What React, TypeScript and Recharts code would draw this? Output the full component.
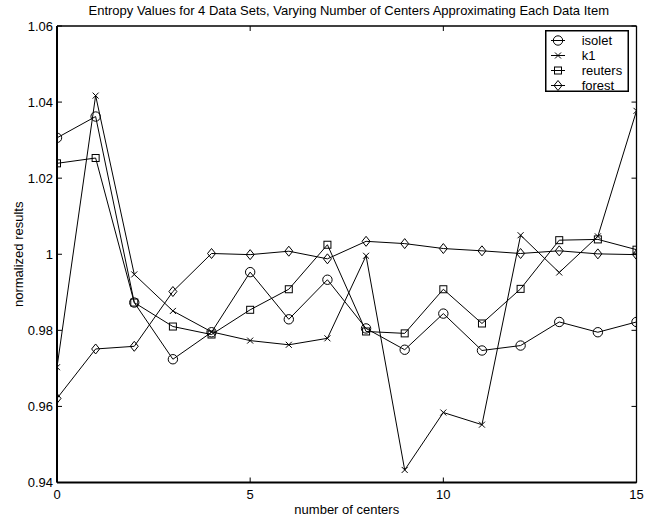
import React from 'react';
import { LineChart, Line, XAxis, YAxis, Legend } from 'recharts';

const centers = [0, 1, 2, 3, 4, 5, 6, 7, 8, 9, 10, 11, 12, 13, 14, 15];
const isolet = [1.0306, 1.0362, 0.9873, 0.9724, 0.9795, 0.9953, 0.9829, 0.9933, 0.9805, 0.9749, 0.9844, 0.9747, 0.976, 0.9822, 0.9795, 0.9822];
const k1 = [0.9703, 1.0417, 0.9947, 0.9851, 0.9796, 0.9773, 0.9762, 0.9779, 0.9996, 0.9433, 0.9584, 0.9552, 1.005, 0.9952, 1.0047, 1.0377];
const reuters = [1.0239, 1.0253, 0.9873, 0.981, 0.9789, 0.9854, 0.9908, 1.0025, 0.9797, 0.9792, 0.9908, 0.9818, 0.9909, 1.0037, 1.0039, 1.0012];
const forest = [0.9621, 0.9751, 0.9758, 0.9902, 1.0002, 0.9999, 1.0008, 0.9988, 1.0034, 1.0028, 1.0015, 1.0009, 1.0002, 1.0009, 1.0001, 0.9999];

const seriesOrder = ['isolet', 'k1', 'reuters', 'forest'];
const xTicks = [0, 5, 10, 15];
const yTicks = [0.94, 0.96, 0.98, 1, 1.02, 1.04, 1.06];
const xDomain = [0, 15];
const yDomain = [0.94, 1.06];

const title = 'Entropy Values for 4 Data Sets, Varying Number of Centers Approximating Each Data Item';
const xLabel = 'number of centers';
const yLabel = 'normalized results';

const data = centers.map((c, i) => ({
  c,
  isolet: isolet[i],
  k1: k1[i],
  reuters: reuters[i],
  forest: forest[i],
}));

const FONT = '"Liberation Sans", Arial, Helvetica, sans-serif';
const TICK = 5;
const FS = 13;
const tickLineStyle = { stroke: '#000', strokeWidth: 1 };

type Kind = 'isolet' | 'k1' | 'reuters' | 'forest';

const Marker = ({ kind, cx, cy }: { kind: Kind; cx: number; cy: number }) => {
  const s = { fill: 'none', stroke: '#000', strokeWidth: 1 };
  if (kind === 'isolet') return <circle cx={cx} cy={cy} r={4.7} {...s} />;
  if (kind === 'k1')
    return (
      <g {...s}>
        <line x1={cx - 3} y1={cy - 3} x2={cx + 3} y2={cy + 3} />
        <line x1={cx - 3} y1={cy + 3} x2={cx + 3} y2={cy - 3} />
      </g>
    );
  if (kind === 'reuters') return <rect x={cx - 3.5} y={cy - 3.5} width={7} height={7} {...s} />;
  return <polygon points={`${cx},${cy - 5} ${cx + 4},${cy} ${cx},${cy + 5} ${cx - 4},${cy}`} {...s} />;
};

const dotFor = (kind: Kind) => (p: any) => {
  if (p.cx == null || p.cy == null) return <g key={`${kind}-${p.index}`} />;
  return <Marker key={`${kind}-${p.index}`} kind={kind} cx={p.cx} cy={p.cy} />;
};

const fmt = (v: number) => String(Number(v.toFixed(2)));

// With tickSize = -TICK the tick lines point into the plot and the tick
// anchor sits TICK px inside the axis line.
const BottomTick = (p: any) => (
  <text x={p.x} y={Number(p.y) + TICK + 16} textAnchor="middle" fontSize={FS} fontFamily={FONT} fill="#000">
    {fmt(p.payload.value)}
  </text>
);
const LeftTick = (p: any) => (
  <text x={Number(p.x) - TICK - 4} y={Number(p.y) + 4.5} textAnchor="end" fontSize={FS} fontFamily={FONT} fill="#000">
    {fmt(p.payload.value)}
  </text>
);
const NoTickText = () => <g />;

const renderLegend = (props: any) => {
  const payload = [...(props.payload || [])].sort(
    (a: any, b: any) => seriesOrder.indexOf(String(a.dataKey)) - seriesOrder.indexOf(String(b.dataKey))
  );
  return (
    <svg width={84} height={62} style={{ display: 'block' }}>
      <rect x={0.75} y={0.75} width={82.5} height={60.5} fill="#fff" stroke="#000" strokeWidth={1.5} />
      {payload.map((e: any, i: number) => {
        const cy = 10.5 + i * 15;
        return (
          <g key={String(e.dataKey)}>
            <line x1={6} x2={20} y1={cy} y2={cy} stroke="#000" />
            <Marker kind={e.dataKey as Kind} cx={13} cy={cy} />
            <text x={36.7} y={cy + 4.5} fontSize={FS} fontFamily={FONT} fill="#000">
              {e.value}
            </text>
          </g>
        );
      })}
    </svg>
  );
};

export default function App() {
  return (
    <div style={{ position: 'absolute', left: 0, top: 0, width: 650, height: 517, background: '#fff' }}>
      <LineChart
        width={650}
        height={517}
        data={data}
        margin={{ top: 0, right: 0, bottom: 0, left: 0 }}
        style={{ fontFamily: FONT }}
      >
        <XAxis
          xAxisId="b"
          dataKey="c"
          type="number"
          domain={xDomain}
          ticks={xTicks}
          interval={0}
          allowDataOverflow
          height={34.5}
          tickSize={-TICK}
          tickMargin={0}
          tickLine={tickLineStyle}
          tick={BottomTick}
          axisLine={{ stroke: '#000', strokeWidth: 2 }}
          label={(p: any) => {
            const vb = p.viewBox;
            return (
              <text x={vb.x + vb.width / 2} y={vb.y + 31.5} textAnchor="middle" fontSize={FS} fontFamily={FONT} fill="#000">
                {xLabel}
              </text>
            );
          }}
        />
        <XAxis
          xAxisId="t"
          orientation="top"
          dataKey="c"
          type="number"
          domain={xDomain}
          ticks={xTicks}
          interval={0}
          allowDataOverflow
          height={26}
          tickSize={-TICK}
          tickMargin={0}
          tickLine={tickLineStyle}
          tick={NoTickText}
          axisLine={{ stroke: '#000', strokeWidth: 1.5 }}
          label={(p: any) => {
            const vb = p.viewBox;
            return (
              <text x={vb.x + vb.width / 2 + 2} y={15} textAnchor="middle" fontSize={FS} fontFamily={FONT} fill="#000">
                {title}
              </text>
            );
          }}
        />
        <YAxis
          yAxisId="l"
          type="number"
          domain={yDomain}
          ticks={yTicks}
          interval={0}
          allowDataOverflow
          width={57}
          tickSize={-TICK}
          tickMargin={0}
          tickLine={tickLineStyle}
          tick={LeftTick}
          axisLine={{ stroke: '#000', strokeWidth: 2 }}
          label={(p: any) => {
            const vb = p.viewBox;
            const cy = vb.y + vb.height / 2;
            return (
              <text x={23} y={cy} transform={`rotate(-90, 23, ${cy})`} textAnchor="middle" fontSize={FS} fontFamily={FONT} fill="#000">
                {yLabel}
              </text>
            );
          }}
        />
        <YAxis
          yAxisId="r"
          orientation="right"
          type="number"
          domain={yDomain}
          ticks={yTicks}
          interval={0}
          allowDataOverflow
          width={13.5}
          tickSize={-TICK}
          tickMargin={0}
          tickLine={tickLineStyle}
          tick={NoTickText}
          axisLine={{ stroke: '#000', strokeWidth: 1.3 }}
        />
        <Legend
          layout="vertical"
          align="center"
          verticalAlign="middle"
          content={renderLegend}
          wrapperStyle={{ left: 545, top: 30, width: 84, height: 62 }}
        />
        <Line xAxisId="b" yAxisId="l" type="linear" dataKey="isolet" name="isolet" stroke="#000" strokeWidth={1} dot={dotFor('isolet')} activeDot={false} isAnimationActive={false} />
        <Line xAxisId="b" yAxisId="l" type="linear" dataKey="k1" name="k1" stroke="#000" strokeWidth={1} dot={dotFor('k1')} activeDot={false} isAnimationActive={false} />
        <Line xAxisId="t" yAxisId="r" type="linear" dataKey="reuters" name="reuters" stroke="#000" strokeWidth={1} dot={dotFor('reuters')} activeDot={false} isAnimationActive={false} />
        <Line xAxisId="t" yAxisId="r" type="linear" dataKey="forest" name="forest" stroke="#000" strokeWidth={1} dot={dotFor('forest')} activeDot={false} isAnimationActive={false} />
      </LineChart>
    </div>
  );
}
